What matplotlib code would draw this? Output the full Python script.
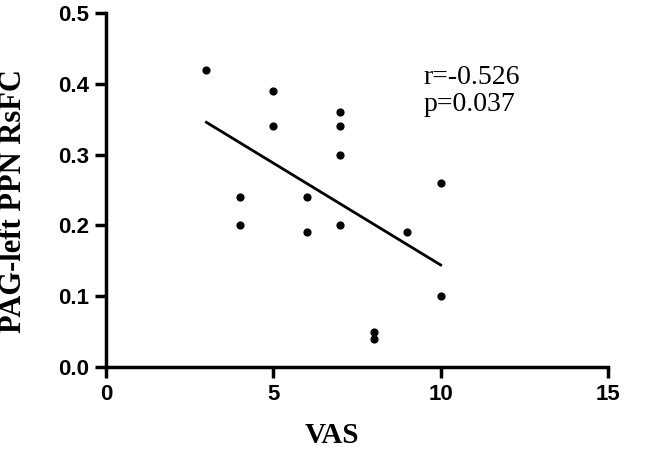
import numpy as np
import matplotlib.pyplot as plt

vas = [3, 4, 4, 5, 5, 6, 6, 7, 7, 7, 7, 8, 8, 9, 10, 10]
rsfc = [0.42, 0.24, 0.20, 0.39, 0.34, 0.24, 0.19, 0.36, 0.34, 0.30, 0.20,
        0.05, 0.04, 0.19, 0.26, 0.10]
x_ticks = [0, 5, 10, 15]
y_ticks = [0.0, 0.1, 0.2, 0.3, 0.4, 0.5]

fig = plt.figure(figsize=(6.53, 4.49), dpi=100)
ax = fig.add_axes([106 / 653, 1 - 367 / 449, 502 / 653, 354 / 449])

x = np.array(vas)
y = np.array(rsfc)
ax.scatter(x, y, s=24, color="black", zorder=3)

# linear fit
coef = np.polyfit(x, y, 1)
x_fit = np.linspace(x.min(), x.max(), 100)
ax.plot(x_fit, np.polyval(coef, x_fit), color="black", lw=2)

ax.set_xlim(0, 15)
ax.set_ylim(0, 0.5)
ax.set_xticks(x_ticks)
ax.set_yticks(y_ticks)
ax.set_yticklabels([f"{v:.1f}" for v in y_ticks])

for s in ["top", "right"]:
    ax.spines[s].set_visible(False)
for s in ["left", "bottom"]:
    ax.spines[s].set_linewidth(2.5)
ax.tick_params(width=2.5, length=8, direction="out", labelsize=16, pad=4)
for lab in ax.get_xticklabels() + ax.get_yticklabels():
    lab.set_fontfamily("Liberation Sans")
    lab.set_fontweight("bold")

ax.set_xlabel("VAS", fontfamily="Liberation Serif", fontweight="bold",
              fontsize=21)
ax.xaxis.set_label_coords(0.45, -0.155)
ax.set_ylabel("PAG-left PPN RsFC", fontfamily="Liberation Serif",
              fontweight="bold", fontsize=22)
ax.yaxis.set_label_coords(-0.155, 0.47)

ax.text(0.632, 0.78, "r=-0.526\np=0.037", transform=ax.transAxes,
        fontfamily="Liberation Serif", fontsize=20, va="center",
        linespacing=1.1)

fig.savefig("out.png", dpi=100)
